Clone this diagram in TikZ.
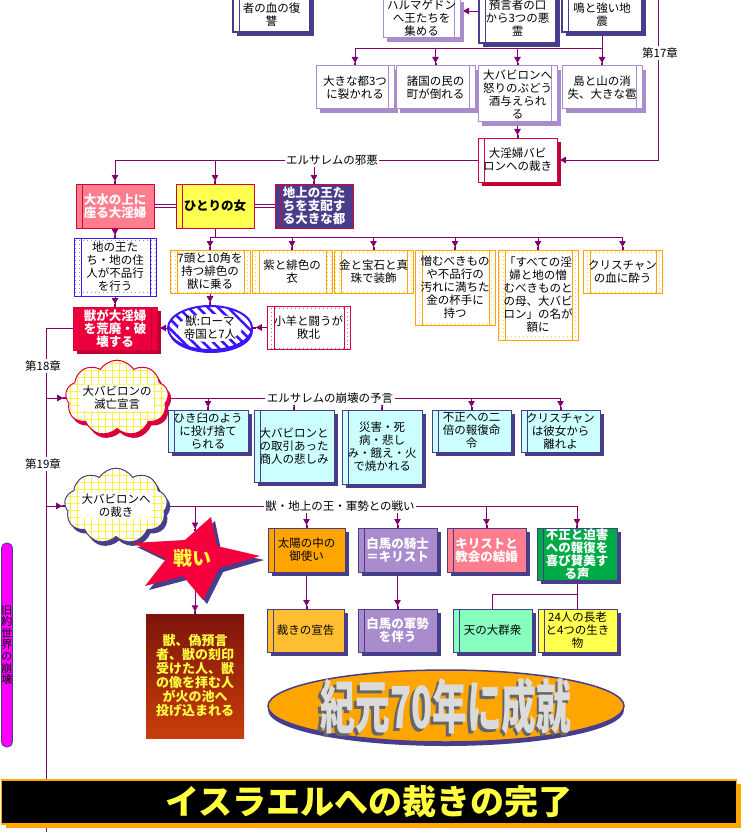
\documentclass[tikz,border=0pt]{standalone}
\usepackage{fontspec}
\setmainfont{Noto Sans CJK JP}
\usepackage{graphicx}
\usetikzlibrary{arrows.meta,shapes.geometric,shapes.symbols,shadows,patterns.meta}
\definecolor{lnc}{RGB}{128,0,110}
\definecolor{nvy}{RGB}{72,61,139}
\definecolor{lpur}{RGB}{170,140,205}
\definecolor{crim}{RGB}{215,0,60}
\definecolor{crimd}{RGB}{190,0,50}
\definecolor{crimI}{RGB}{235,0,60}
\definecolor{pnk}{RGB}{255,125,140}
\definecolor{ylw}{RGB}{255,255,80}
\definecolor{orC}{RGB}{255,165,0}
\definecolor{lor}{RGB}{255,190,50}
\definecolor{grn}{RGB}{0,170,70}
\definecolor{mnt}{RGB}{135,255,190}
\definecolor{cyn}{RGB}{204,255,255}
\definecolor{blB}{RGB}{60,20,255}
\definecolor{mag}{RGB}{255,0,255}
\definecolor{yelT}{RGB}{255,255,64}
\definecolor{strR}{RGB}{245,0,60}
\definecolor{gridY}{RGB}{255,240,60}
\pgfdeclarelayer{bg}
\pgfsetlayers{bg,main}
\newcommand\Bx[6]{\node[#1, minimum width={#4-#2}, minimum height={#5-#3}] (#6) at ({(#2+#4)/2},{(#3+#5)/2})}
\tikzset{
 tx/.style={font=\fontsize{11.5}{13}\selectfont},
 wt/.style={text=white, font=\bfseries\fontsize{12.5}{13}\selectfont},
 kt/.style={text=black, font=\bfseries\fontsize{12.5}{13}\selectfont},
 conn/.style={draw=lnc, line width=0.9pt},
 arr/.style={conn, -{Triangle[length=6pt,width=6.5pt,sep=0pt]Rectangle[length=2.5pt,width=1.8pt,sep=0pt]}},
 lbl/.style={tx, fill=white, inner sep=1.5pt},
 bx/.style={draw, line width=1pt, align=center, inner sep=0pt, tx},
 dl/.style={path picture={\draw[#1,line width=1pt] ([xshift=6pt]path picture bounding box.north west) -- ([xshift=6pt]path picture bounding box.south west);}},
 dr/.style={path picture={\draw[#1,line width=1pt] ([xshift=-6pt]path picture bounding box.north east) -- ([xshift=-6pt]path picture bounding box.south east);}},
 sh/.style={drop shadow={shadow xshift=4pt,shadow yshift=-4pt,fill=#1,opacity=1}},
 nbox/.style={bx, draw=nvy, line width=1.3pt, fill=white, dl=nvy, sh=nvy},
 pbox/.style={bx, draw=lpur, fill=white, dr=lpur, sh=lpur},
 rbox/.style={bx, draw=crim, dl=crim},
 cbox/.style={bx, draw=nvy, fill=#1, dl=nvy, sh=nvy},
 dotbox/.style 2 args={bx, draw=#1, preaction={fill=white}, pattern={Dots[distance=4pt,radius=0.6pt]}, pattern color=#2,
   path picture={
   \fill[white] ([shift={(7pt,-3pt)}]path picture bounding box.north west) rectangle ([shift={(-6pt,4pt)}]path picture bounding box.south east);
   \draw[#1,line width=1pt] ([xshift=7pt]path picture bounding box.north west) -- ([xshift=7pt]path picture bounding box.south west);
   \draw[#1,line width=1pt] ([xshift=-6pt]path picture bounding box.north east) -- ([xshift=-6pt]path picture bounding box.south east);}},
 cld/.style={cloud, cloud puffs=9, cloud puff arc=115, aspect=1.6, draw=#1, line width=1pt,
   drop shadow={shadow xshift=3pt,shadow yshift=-4pt,fill=#1,opacity=1},
   preaction={fill=white}, pattern={Hatch[angle=0,distance=7pt,line width=0.8pt]}, pattern color=gridY,
   align=center, inner sep=0pt, tx,
   path picture={\fill[white, rounded corners=3pt] ([shift={(-36pt,-13pt)}]path picture bounding box.center) rectangle ([shift={(36pt,13pt)}]path picture bounding box.center);}},
}
\begin{document}
\begin{tikzpicture}[x=1pt,y=-1pt]
\useasboundingbox (0,0) rectangle (743,832);
\clip (0,0) rectangle (743,832);

% ---- top row (cut off)
\Bx{nbox}{233}{-16}{310}{32}{A}{聖徒と預言\\者の血の復\\讐};
\Bx{pbox}{383}{-2}{460}{38}{B}{ハルマゲドン\\へ王たちを\\集める};
\Bx{nbox}{479}{-8}{556}{43}{C}{預言者の口\\から3つの悪\\霊};
\Bx{nbox}{562}{-16}{642}{32}{D}{稲妻と雷\\鳴と強い地\\震};

% ---- row E
\Bx{pbox}{316}{66}{394}{109}{E1}{大きな都3つ\\に裂かれる};
\Bx{pbox}{396}{66}{475}{109}{E2}{諸国の民の\\町が倒れる};
\Bx{pbox}{478}{66}{557}{122}{E3}{大バビロンへ\\怒りのぶどう\\酒与えられ\\る};
\Bx{pbox}{562}{66}{642}{109}{E4}{島と山の消\\失、大きな雹};

\Bx{rbox, fill=white, sh=crimd}{478}{138}{557}{182}{F}{大淫婦バビ\\ロンへの裁き};

% ---- row G
\Bx{rbox, fill=pnk, wt}{76}{184}{154}{228}{G1}{大水の上に\\座る大淫婦};
\Bx{rbox, fill=ylw, kt}{176}{184}{254}{228}{G2}{ひとりの女};
\Bx{rbox, fill=nvy, wt}{275}{184}{353}{228}{G3}{地上の王た\\ちを支配す\\る大きな都};

\Bx{dotbox={blB}{nvy}}{74}{238}{156}{296}{H}{地の王た\\ち・地の住\\人が不品行\\を行う};
\Bx{bx, draw=crim, fill=crimI, dr=crimd, sh=crimd, wt}{73}{307}{157}{350}{I}{獣が大淫婦\\を荒廃・破\\壊する};

% ---- row K
\Bx{dotbox={orC}{orC}}{170}{250}{250}{293}{K1}{7頭と10角を\\持つ緋色の\\獣に乗る};
\Bx{dotbox={orC}{orC}}{252}{250}{332}{293}{K2}{紫と緋色の\\衣};
\Bx{dotbox={orC}{orC}}{334}{250}{413}{293}{K3}{金と宝石と真\\珠で装飾};
\Bx{dotbox={orC}{orC}}{415}{250}{495}{325}{K4}{憎むべきもの\\や不品行の\\汚れに満ちた\\金の杯手に\\持つ};
\Bx{dotbox={orC}{orC}}{498}{250}{578}{340}{K5}{「すべての淫\\婦と地の憎\\むべきものと\\の母、大バビ\\ロン」の名が\\額に};
\Bx{dotbox={orC}{orC}}{583}{250}{662}{293}{K6}{クリスチャン\\の血に酔う};

\node[ellipse, draw=blB, line width=2pt, minimum width=84pt, minimum height=44pt, inner sep=0pt, align=center, tx,
  drop shadow={shadow xshift=1pt,shadow yshift=-3pt,fill=blB,opacity=1},
  preaction={fill=white}, pattern={Lines[angle=-45,distance=7pt,line width=2.6pt]}, pattern color=blB,
  path picture={\fill[white] (path picture bounding box.center) ellipse (32pt and 14pt);}] (J) at (210,328) {獣:ローマ\\帝国と7人};
\Bx{dotbox={crim}{nvy}}{267}{306}{350}{349}{L}{小羊と闘うが\\敗北};

% ---- chapter 18
\node[cld=crim, minimum width=94pt, minimum height=60pt] (C1) at (117,398) {大バビロンの\\滅亡宣言};
\Bx{cbox=cyn}{168}{410}{248}{452}{M1}{ひき臼のよう\\に投げ捨て\\られる};
\Bx{cbox=cyn}{254}{410}{334}{482}{M2}{大バビロンと\\の取引あった\\商人の悲しみ};
\Bx{cbox=cyn}{342}{410}{422}{484}{M3}{災害・死\\病・悲し\\み・餓え・火\\で焼かれる};
\Bx{cbox=cyn}{432}{410}{511}{452}{M4}{不正への二\\倍の報復命\\令};
\Bx{cbox=cyn}{521}{410}{600}{452}{M5}{クリスチャン\\は彼女から\\離れよ};

% ---- chapter 19
\node[cld=nvy, minimum width=94pt, minimum height=54pt] (C2) at (116,506) {大バビロンへ\\の裁き};
\Bx{cbox=orC}{268}{528}{345}{572}{N1}{太陽の中の\\御使い};
\Bx{cbox=lpur, wt}{358}{528}{437}{572}{N2}{白馬の騎士\\＝キリスト};
\Bx{cbox=pnk, wt}{447}{528}{526}{572}{N3}{キリストと\\教会の結婚};
\Bx{cbox=grn, wt}{537}{528}{617}{580}{N4}{不正と迫害\\への報復を\\喜び賛美す\\る声};
\Bx{cbox=lor}{267}{609}{344}{652}{P1}{裁きの宣告};
\Bx{cbox=lpur, wt}{358}{609}{437}{652}{P2}{白馬の軍勢\\を伴う};
\Bx{cbox=mnt}{453}{609}{532}{652}{Q1}{天の大群衆};
\Bx{cbox=ylw}{538}{609}{617}{652}{Q2}{24人の長老\\と4つの生き\\物};

\node[top color={rgb,255:red,125;green,20;blue,10}, bottom color={rgb,255:red,200;green,62;blue,10},
  minimum width=98pt, minimum height=124pt, inner sep=0pt, align=center, text=yelT,
  font=\bfseries\fontsize{13}{14}\selectfont] (O) at (195,676) {獣、偽預言\\者、獣の刻印\\受けた人、獣\\の像を拝む人\\が火の池へ\\投げ込まれる};

% star
\fill[nvy, shift={(4,4)}] (211,517) -- (217,546) -- (260,556) -- (219,568) -- (203,600) -- (183,576) -- (145,586) -- (166,559) -- (133,543) -- (185,540) -- cycle;
\fill[strR] (211,517) -- (217,546) -- (260,556) -- (219,568) -- (203,600) -- (183,576) -- (145,586) -- (166,559) -- (133,543) -- (185,540) -- cycle;
\node[text=yelT, font=\bfseries\fontsize{19}{20}\selectfont] (W) at (192,558) {戦い};
\coordinate (sT) at (195,531);
\coordinate (sB) at (195,590);

% ellipse 70 AD
\node[ellipse, fill=orC, draw=nvy, line width=1.5pt, drop shadow={shadow xshift=0pt,shadow yshift=-4pt,fill=nvy,opacity=1},
  minimum width=356pt, minimum height=72pt] (R) at (446,706) {};
\node[text=black!60, font=\bfseries\fontsize{58}{58}\selectfont] (Rs) at (443.5,709) {\scalebox{0.6}[1]{紀元70年に成就}};
\node[text=black!14, font=\bfseries\fontsize{58}{58}\selectfont] (Rt) at (446,706.5) {\scalebox{0.6}[1]{紀元70年に成就}};

% side pill
\node[draw=nvy, fill=mag, rounded corners=5pt, line width=0.8pt, minimum width=10pt, minimum height=204pt,
  inner sep=0pt, align=center, font=\fontsize{11}{11.6}\selectfont] (S) at (7,645) {旧\\約\\世\\界\\の\\崩\\壊};

% banner
\node[fill=black, draw=orC, line width=1.5pt, sh=orC, minimum width=735pt, minimum height=44pt, inner sep=0pt,
  text=yelT, font=\bfseries\fontsize{34}{36}\selectfont] (T) at (369,802) {イスラエルへの裁きの完了};

% ---- connectors
\begin{pgfonlayer}{bg}
\draw[arr] ([yshift=6.5pt]C.west) -- ([yshift=6.5pt]C.west -| B.east);
\coordinate (b1) at (355,48);
\draw[conn] (D.south) |- (b1);
\draw[arr] (b1) -- (E1.north);
\draw[arr] (E2.north |- b1) -- (E2.north);
\draw[arr] (E3.north |- b1) -- (E3.north);
\draw[arr] (E4.north |- b1) -- (E4.north);
\draw[arr] (E3.south) -- (F.north);
\coordinate (r0) at (658,0);
\draw[arr] (r0) |- (F.east);
\coordinate (b2) at (115,160);
\draw[conn] (F.west) -- (b2);
\draw[arr] (b2) -- (G1.north);
\draw[arr] (G2.north |- b2) -- (G2.north);
\draw[arr] (G3.north |- b2) -- (G3.north);
\draw[conn, double=white, double distance=2.4pt] (G1.east) -- (G2.west);
\draw[conn, double=white, double distance=2.4pt] (G2.east) -- (G3.west);
\draw[arr] (G1.south) -- (H.north);
\draw[arr] (H.south) -- (I.north);
\coordinate (b3) at (210,237);
\draw[conn] (G2.south) -- (G2.south |- b3);
\draw[conn] (b3) -- (b3 -| K6.north);
\draw[arr] (b3) -- (K1.north);
\draw[arr] (K2.north |- b3) -- (K2.north);
\draw[arr] (K3.north |- b3) -- (K3.north);
\draw[arr] (K4.north |- b3) -- (K4.north);
\draw[arr] (K5.north |- b3) -- (K5.north);
\draw[arr] (K6.north |- b3) -- (K6.north);
\draw[arr] (K1.south) -- (J.north);
\draw[arr] (J.west) -- (J.west -| I.east);
\draw[arr] (L.west) -- (L.west -| J.east);
\coordinate (m0) at (46,328.5);
\coordinate (m1) at (46,832);
\draw[conn] (I.west) -- (m0) -- (m1);
\draw[arr] (m0 |- C1.west) -- (C1.west);
\draw[conn] (C1.east) -- (C1.east -| M5.north);
\draw[arr] (M1.north |- C1.east) -- (M1.north);
\draw[arr] (M2.north |- C1.east) -- (M2.north);
\draw[arr] (M3.north |- C1.east) -- (M3.north);
\draw[arr] (M4.north |- C1.east) -- (M4.north);
\draw[arr] (M5.north |- C1.east) -- (M5.north);
\draw[arr] (m0 |- C2.west) -- (C2.west);
\draw[conn] (C2.east) -- (C2.east -| N4.north);
\draw[arr] (sT |- C2.east) -- (sT);
\draw[arr] (N1.north |- C2.east) -- (N1.north);
\draw[arr] (N2.north |- C2.east) -- (N2.north);
\draw[arr] (N3.north |- C2.east) -- (N3.north);
\draw[arr] (N4.north |- C2.east) -- (N4.north);
\draw[arr] (sB) -- (O.north);
\draw[arr] (N1.south) -- (N1.south |- P1.north);
\draw[arr] (N2.south) -- (P2.north);
\coordinate (q) at (577,594);
\draw[conn] (N4.south) -- (q);
\draw[conn] (Q1.north) |- (q);
\draw[conn] (q) -- (q |- Q2.north);
\end{pgfonlayer}

% ---- labels on lines
\node[lbl] (ch17) at (660,53) {第17章};
\node[lbl] (lb1) at (332,160) {エルサレムの邪悪};
\node[lbl] (ch18) at (43,366) {第18章};
\node[lbl] (ch19) at (43,464) {第19章};
\node[lbl] (lb2) at (330,398) {エルサレムの崩壊の予言};
\node[lbl] (lb3) at (340,506) {獣・地上の王・軍勢との戦い};
\end{tikzpicture}
\end{document}
